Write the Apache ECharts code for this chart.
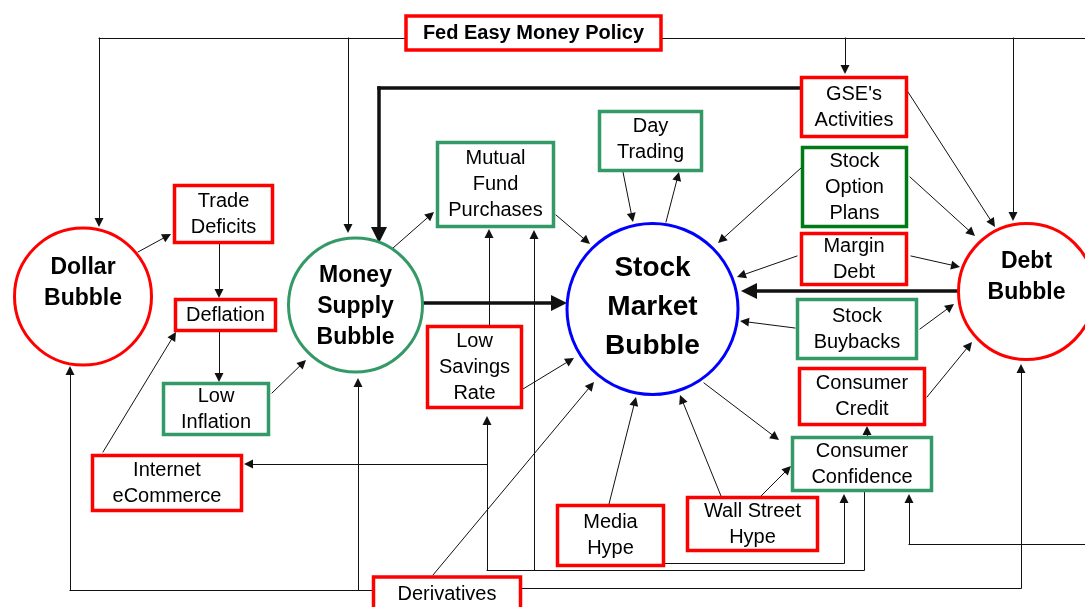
<!DOCTYPE html>
<html>
<head>
<meta charset="utf-8">
<script src="https://cdn.jsdelivr.net/npm/echarts@6/dist/echarts.min.js"></script>
<style>
html, body { margin: 0; padding: 0; background: #fff; }
#main { width: 1085px; height: 607px; }
</style>
</head>
<body>
<div id="main"></div>
<script>
// diagram boxes and bubbles: label and centre (x to the right, y downwards)
const nodeNames = [
  'Fed Easy Money Policy', 'Dollar\nBubble', 'Trade\nDeficits', 'Deflation',
  'Low\nInflation', 'Internet\neCommerce', 'Money\nSupply\nBubble',
  'Mutual\nFund\nPurchases', 'Low\nSavings\nRate', 'Derivatives', 'Day\nTrading',
  'Stock\nMarket\nBubble', 'Media\nHype', 'Wall Street\nHype', "GSE's\nActivities",
  'Stock\nOption\nPlans', 'Margin\nDebt', 'Stock\nBuybacks', 'Consumer\nCredit',
  'Consumer\nConfidence', 'Debt\nBubble'
];
const nodeX = [533.5, 83, 223.5, 225.5, 216, 167, 355.5, 495.5, 474.5, 447, 650.5,
  652.5, 610.5, 752.5, 854, 854.5, 854, 857, 862, 862, 1026.5];
const nodeY = [33, 296.5, 214, 315, 409, 483, 305, 184.5, 367, 595, 141,
  309, 535.5, 524, 107, 187, 259, 329, 396.5, 464, 291.5];

// connectors: each path ends where its arrow points
const arrowLinks = [
  [[405, 38], [99, 38], [99, 227]],          // Fed -> Dollar
  [[348, 38], [348, 233]],                    // Fed -> Money supply
  [[662, 38], [845, 38], [845, 74]],          // Fed -> GSE
  [[1013, 38], [1013, 221]],                  // Fed -> Debt
  [[138, 252], [171, 234]],                   // Dollar -> Trade deficits
  [[219, 244], [219, 298]],
  [[219, 332], [219, 382]],
  [[272, 393], [306, 360]],
  [[103, 452], [176, 332]],
  [[393, 248], [434, 212]],
  [[556, 215], [590, 244]],
  [[489, 325], [489, 229]],
  [[523, 389], [574, 358]],
  [[623, 172], [633, 222]],
  [[666, 222], [679, 172]],
  [[801, 168], [718, 243]],
  [[908, 92], [995, 227]],
  [[910, 177], [975, 236]],
  [[797, 256], [737, 277]],
  [[911, 256], [960, 267]],
  [[795, 328], [740, 321]],
  [[920, 329], [954, 304]],
  [[927, 397], [972, 342]],
  [[867, 436], [867, 426]],
  [[704, 383], [779, 440]],
  [[609, 504], [636, 397]],
  [[721, 496], [680, 395]],
  [[761, 496], [791, 466]],
  [[665, 563], [844, 563], [844, 494]],       // Media -> Consumer confidence
  [[864, 492], [864, 570], [487, 570], [487, 416]],
  [[534, 570], [534, 230]],
  [[487, 464], [244, 464]],
  [[433, 575], [594, 382]],                   // Derivatives -> Stock
  [[372, 590], [70, 590], [70, 366]],
  [[358, 590], [358, 378]],
  [[522, 588], [1021, 588], [1021, 364]],
  [[1085, 544], [909, 544], [909, 494]]
];
const plainLinks = [
  [[845, 38], [1085, 38]]
];
const thickLinks = [
  [[800, 88], [379, 88], [379, 243]],         // GSE -> Money supply
  [[423, 303], [567, 303]],                   // Money supply -> Stock
  [[956, 291], [741, 291]]                    // Debt -> Stock
];

// ---- looks ----
const RED = '#ff0000', GREEN = '#339966', DKGREEN = '#007a14', BLUE = '#0000ff';
const FONT = "'Liberation Sans', Arial, sans-serif";
const nodeStyle = [
  { shape: 'rect', w: 255, h: 34, color: RED, bold: true, fs: 20 },
  { shape: 'circle', w: 137, h: 136, color: RED, bold: true, fs: 23, lh: 31, dy: -13 },
  { shape: 'rect', w: 98, h: 57, color: RED },
  { shape: 'rect', w: 100, h: 31, color: RED },
  { shape: 'rect', w: 105, h: 51, color: GREEN },
  { shape: 'rect', w: 149, h: 55, color: RED },
  { shape: 'circle', w: 134, h: 134, color: GREEN, bold: true, fs: 23, lh: 31, dy: 2 },
  { shape: 'rect', w: 116, h: 84, color: GREEN },
  { shape: 'rect', w: 94, h: 81, color: RED },
  { shape: 'rect', w: 147, h: 36, color: RED, dy: -1 },
  { shape: 'rect', w: 102, h: 59, color: GREEN, dy: -2 },
  { shape: 'circle', w: 171, h: 171, color: BLUE, bold: true, fs: 28, lh: 39, dy: -2 },
  { shape: 'rect', w: 106, h: 60, color: RED },
  { shape: 'rect', w: 130, h: 53, color: RED },
  { shape: 'rect', w: 105, h: 59, color: RED },
  { shape: 'rect', w: 104, h: 79, color: DKGREEN },
  { shape: 'rect', w: 105, h: 51, color: RED },
  { shape: 'rect', w: 119, h: 59, color: GREEN },
  { shape: 'rect', w: 125, h: 56, color: RED },
  { shape: 'rect', w: 139, h: 53, color: GREEN },
  { shape: 'circle', w: 136, h: 136, color: RED, bold: true, fs: 23, lh: 31, dy: -14 }
];

const nodeData = nodeNames.map(function (name, i) {
  return { name: name, value: [nodeX[i], nodeY[i]] };
});

function renderNode(params, api) {
  const i = params.dataIndex;
  const s = nodeStyle[i];
  const c = api.coord([api.value(0), api.value(1)]);
  const outline = s.shape === 'circle'
    ? { type: 'circle', shape: { cx: c[0], cy: c[1], r: s.w / 2 },
        style: { fill: '#fff', stroke: s.color, lineWidth: 3 } }
    : { type: 'rect', shape: { x: c[0] - s.w / 2, y: c[1] - s.h / 2, width: s.w, height: s.h },
        style: { fill: '#fff', stroke: s.color, lineWidth: 3.5 } };
  return {
    type: 'group',
    children: [
      outline,
      {
        type: 'text',
        style: {
          text: nodeNames[i], x: c[0], y: c[1] + (s.dy || 0),
          align: 'center', verticalAlign: 'middle', fill: '#000',
          fontFamily: FONT, fontSize: s.fs || 20, fontWeight: s.bold ? 'bold' : 'normal',
          lineHeight: s.lh || 26
        }
      }
    ]
  };
}

// split paths into straight pieces; the last piece of an arrowed path stops
// half an arrowhead short so the tip lands on the end point
function toSegments(links, arrowed, size) {
  const plain = [], withArrow = [];
  links.forEach(function (path) {
    for (let i = 0; i < path.length - 1; i++) {
      const a = path[i], b = path[i + 1];
      if (arrowed && i === path.length - 2) {
        const dx = b[0] - a[0], dy = b[1] - a[1];
        const k = (size / 2) / Math.hypot(dx, dy);
        withArrow.push({ coords: [a, [b[0] - dx * k, b[1] - dy * k]] });
      } else {
        plain.push({ coords: [a, b] });
      }
    }
  });
  return { plain: plain, arrow: withArrow };
}

const thin = toSegments(arrowLinks, true, 9);
const thinPlain = thin.plain.concat(toSegments(plainLinks, false, 0).plain);
const thick = toSegments(thickLinks, true, 16);

function linesSeries(data, width, arrowSize) {
  return {
    type: 'lines',
    coordinateSystem: 'cartesian2d',
    z: 1,
    symbol: arrowSize ? ['none', 'triangle'] : 'none',
    symbolSize: arrowSize || 0,
    lineStyle: { color: '#111', width: width, opacity: 1, cap: 'square' },
    data: data,
    silent: true
  };
}

const chart = echarts.init(document.getElementById('main'));
chart.setOption({
  animation: false,
  backgroundColor: '#fff',
  grid: { left: 0, right: 0, top: 0, bottom: 0 },
  xAxis: { type: 'value', min: 0, max: 1085, show: false },
  yAxis: { type: 'value', min: 0, max: 607, inverse: true, show: false },
  series: [
    linesSeries(thinPlain, 1, 0),
    linesSeries(thin.arrow, 1, 9),
    linesSeries(thick.plain, 3.5, 0),
    linesSeries(thick.arrow, 3.5, 16),
    {
      type: 'custom',
      z: 3,
      clip: false,
      renderItem: renderNode,
      encode: { x: 0, y: 1 },
      data: nodeData,
      silent: true
    }
  ]
});
</script>
</body>
</html>
